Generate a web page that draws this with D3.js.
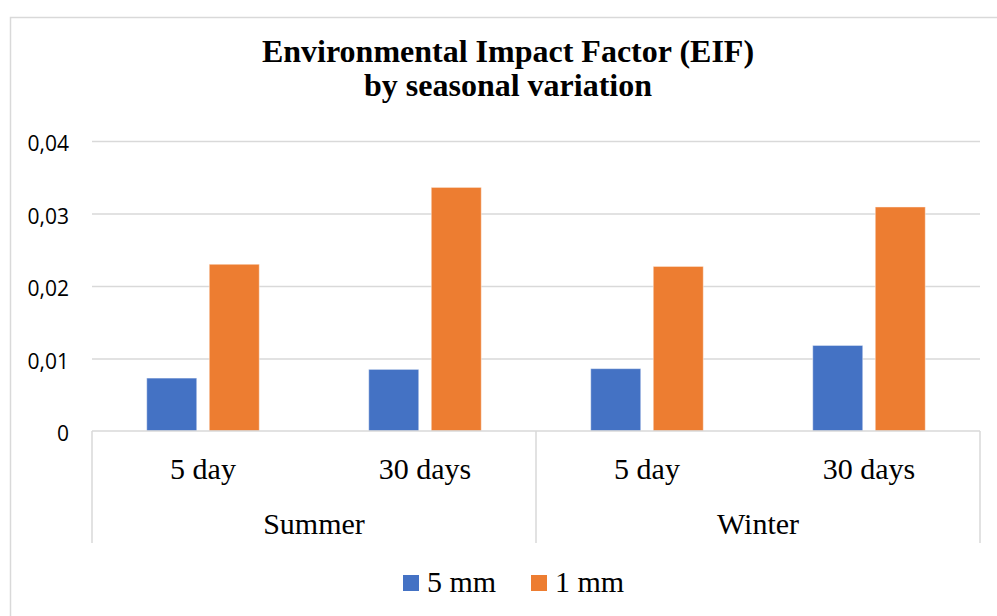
<!DOCTYPE html>
<html>
<head>
<meta charset="utf-8">
<script src="https://cdn.jsdelivr.net/npm/d3@7"></script>
<style>
  html, body { margin: 0; padding: 0; background: #fff; }
  svg { display: block; }
</style>
</head>
<body>
<script>
// ---- data ----
const seasons = ["Summer", "Winter"];
const periods = ["5 day", "30 days"];
const categories = ["Summer|5 day", "Summer|30 days", "Winter|5 day", "Winter|30 days"];
const seriesNames = ["5 mm", "1 mm"];
const values5mm = [0.0073, 0.0085, 0.0086, 0.0118];
const values1mm = [0.0230, 0.0336, 0.0227, 0.0309];
const yTickValues = [0, 0.01, 0.02, 0.03, 0.04];
const yTickLabels = ["0", "0,01", "0,02", "0,03", "0,04"];
const colors = ["#4472C4", "#ED7D31"];
const titleLines = ["Environmental Impact Factor (EIF)", "by seasonal variation"];

// ---- layout ----
const W = 997, H = 616;
const plot = { left: 92, right: 980, top: 141, bottom: 431 };
const serif = "'Liberation Serif', 'Times New Roman', serif";
const sans = "'Open Sans', 'Liberation Sans', sans-serif";
const gridColor = "#d9d9d9";

const svg = d3.select("body").append("svg").attr("width", W).attr("height", H);

// outer chart border
svg.append("rect")
  .attr("x", 10.5).attr("y", 17.5)
  .attr("width", W + 20).attr("height", H + 20)
  .attr("fill", "none").attr("stroke", gridColor).attr("stroke-width", 1.5);

// title
svg.append("text")
  .attr("x", 508).attr("y", 62)
  .attr("text-anchor", "middle")
  .attr("font-family", serif).attr("font-weight", "bold").attr("font-size", 32)
  .selectAll("tspan").data(titleLines).join("tspan")
  .attr("x", 508).attr("dy", (d, i) => i === 0 ? 0 : 34)
  .text(d => d);

// scales
const y = d3.scaleLinear().domain([0, 0.04]).range([plot.bottom, plot.top]);
const x0 = d3.scaleBand().domain(categories).range([plot.left, plot.right])
  .paddingInner(0.493).paddingOuter(0.2465);
const x1 = d3.scaleBand().domain(seriesNames).range([0, x0.bandwidth()]).paddingInner(0.2);
const xs = d3.scaleBand().domain(seasons).range([plot.left, plot.right]);

// gridlines
const grid = svg.append("g").attr("transform", `translate(${plot.left},0)`)
  .call(d3.axisLeft(y).tickValues(yTickValues.slice(1)).tickSize(-(plot.right - plot.left)).tickFormat(""));
grid.select(".domain").remove();
grid.selectAll("line").attr("stroke", gridColor).attr("stroke-width", 1.5);

// y axis labels
const yAxis = svg.append("g").attr("transform", `translate(69,0)`)
  .call(d3.axisLeft(y).tickValues(yTickValues).tickSize(0).tickPadding(0)
    .tickFormat((d, i) => yTickLabels[i]));
yAxis.select(".domain").remove();
yAxis.selectAll("text")
  .attr("font-family", sans).attr("font-size", 21).attr("fill", "#000")
  .attr("dy", "0.47em").attr("text-anchor", "end");

// bars
const rows = categories.map((c, i) => ({ cat: c, vals: [values5mm[i], values1mm[i]] }));
const groups = svg.append("g").selectAll("g").data(rows).join("g")
  .attr("transform", d => `translate(${x0(d.cat)},0)`);
groups.selectAll("rect").data(d => d.vals.map((v, j) => ({ v, s: seriesNames[j], j })))
  .join("rect")
  .attr("x", d => x1(d.s))
  .attr("y", d => y(d.v))
  .attr("width", x1.bandwidth())
  .attr("height", d => y(0) - y(d.v))
  .attr("fill", d => colors[d.j])
  .attr("stroke", "rgba(255,255,255,0.45)").attr("stroke-width", 1);

// x axis baseline
svg.append("line")
  .attr("x1", plot.left).attr("x2", plot.right)
  .attr("y1", y(0)).attr("y2", y(0))
  .attr("stroke", gridColor).attr("stroke-width", 1.5);

// group dividers
const dividerX = seasons.map(s => xs(s)).concat([plot.right]);
svg.append("g").selectAll("line").data(dividerX).join("line")
  .attr("x1", d => d).attr("x2", d => d)
  .attr("y1", y(0)).attr("y2", 543)
  .attr("stroke", gridColor).attr("stroke-width", 1.5);

// period labels
svg.append("g").selectAll("text").data(categories).join("text")
  .attr("x", d => x0(d) + x0.bandwidth() / 2)
  .attr("y", 479)
  .attr("text-anchor", "middle")
  .attr("font-family", serif).attr("font-size", 30).attr("fill", "#000")
  .text(d => d.split("|")[1]);

// season labels
svg.append("g").selectAll("text").data(seasons).join("text")
  .attr("x", d => xs(d) + xs.bandwidth() / 2)
  .attr("y", 534)
  .attr("text-anchor", "middle")
  .attr("font-family", serif).attr("font-size", 30).attr("fill", "#000")
  .text(d => d);

// legend
const legendX = [403, 531];
const legend = svg.append("g").selectAll("g").data(seriesNames).join("g")
  .attr("transform", (d, i) => `translate(${legendX[i]},575)`);
legend.append("rect").attr("width", 16).attr("height", 16)
  .attr("fill", (d, i) => colors[i]);
legend.append("text").attr("x", 24).attr("y", 16.5)
  .attr("font-family", serif).attr("font-size", 30).attr("fill", "#000")
  .text(d => d);
</script>
</body>
</html>
